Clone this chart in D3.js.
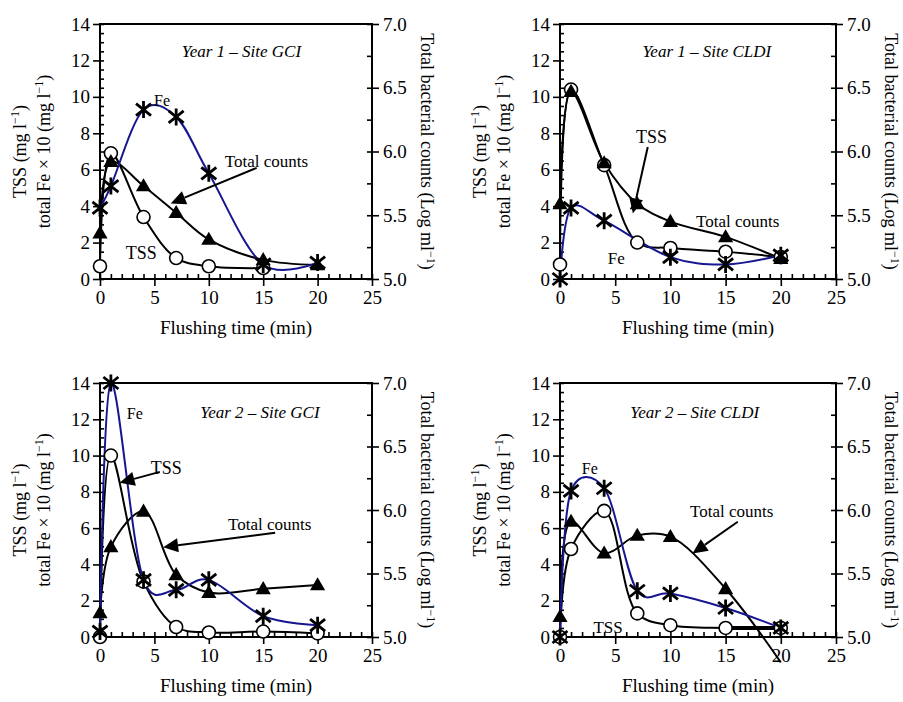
<!DOCTYPE html>
<html>
<head>
<meta charset="utf-8">
<script src="https://cdn.jsdelivr.net/npm/d3@7"></script>
<style>
  body { margin: 0; background: #fff; }
  svg { display: block; }
  svg text { font-family: "Liberation Serif", "Times New Roman", Times, "Nimbus Roman", "FreeSerif", "DejaVu Serif", serif !important; fill: #000; }
</style>
</head>
<body>
<svg id="chart" width="903" height="702"></svg>
<script>
// Sampling times (min)
const times = [0, 1, 4, 7, 10, 15, 20];

// Year 1 - Site GCI
const y1GciFe = [3.9, 5.1, 9.3, 8.9, 5.8, 0.8, 0.9];
const y1GciTss = [0.7, 6.9, 3.4, 1.15, 0.7, 0.6, null];
const y1GciCounts = [5.36, 5.92, 5.73, 5.52, 5.31, 5.15, 5.11];

// Year 1 - Site CLDI
const y1CldiFe = [0.0, 3.9, 3.2, null, 1.2, 0.8, 1.3];
const y1CldiTss = [0.8, 10.4, 6.25, 2.0, 1.7, 1.5, 1.2];
const y1CldiCounts = [5.59, 6.47, 5.91, 5.59, 5.45, 5.33, 5.16];

// Year 2 - Site GCI
const y2GciFe = [0.3, 14.0, 3.15, 2.6, 3.15, 1.15, 0.65];
const y2GciTss = [0.0, 10.0, 3.05, 0.55, 0.25, 0.3, 0.2];
const y2GciCounts = [5.19, 5.71, 5.99, 5.49, 5.35, 5.38, 5.41];

// Year 2 - Site CLDI
const y2CldiFe = [0.0, 8.05, 8.2, 2.55, 2.4, 1.6, 0.5];
const y2CldiTss = [0.0, 4.85, 6.95, 1.3, 0.65, 0.5, 0.5];
const y2CldiCounts = [5.16, 5.91, 5.66, 5.80, 5.79, 5.38, 4.8];

const xTicks = [0, 5, 10, 15, 20, 25];
const leftTicks = [0, 2, 4, 6, 8, 10, 12, 14];
const rightTicks = [5.0, 5.5, 6.0, 6.5, 7.0];

const svg = d3.select("#chart");
const blue = "#161690";
const serif = "'Liberation Serif', 'Times New Roman', Times, serif";

function pairs(vals) {
  return times.map((t, i) => ({ t: t, v: vals[i] })).filter(d => d.v !== null);
}

function drawPanel(cfg) {
  const x = d3.scaleLinear().domain([0, 25]).range([cfg.x0, cfg.x1]);
  const y = d3.scaleLinear().domain([0, 14]).range([cfg.yb, cfg.yt]);
  const yR = d3.scaleLinear().domain([5, 7]).range([cfg.yb, cfg.yt]);
  const g = svg.append("g").attr("font-family", serif);

  // frame
  g.append("rect")
    .attr("x", cfg.x0).attr("y", cfg.yt)
    .attr("width", cfg.x1 - cfg.x0).attr("height", cfg.yb - cfg.yt)
    .attr("fill", "none").attr("stroke", "#000").attr("stroke-width", 2);

  // axes: major ticks outside with labels, minor ticks inside
  const styleAxis = sel => {
    sel.attr("font-family", serif).attr("font-size", 19);
    sel.select(".domain").remove();
    sel.selectAll("line").attr("stroke", "#000").attr("stroke-width", 1.6);
    sel.selectAll("text").attr("fill", "#000");
  };
  g.append("g").attr("transform", `translate(0,${cfg.yb})`)
    .call(d3.axisBottom(x).tickValues(xTicks).tickSize(7).tickSizeOuter(0).tickPadding(5))
    .call(styleAxis);
  g.append("g").attr("transform", `translate(0,${cfg.yb})`)
    .call(d3.axisTop(x).tickValues(d3.range(0, 26, 1)).tickSize(5).tickSizeOuter(0).tickFormat(""))
    .call(styleAxis);
  g.append("g").attr("transform", `translate(${cfg.x0},0)`)
    .call(d3.axisLeft(y).tickValues(leftTicks).tickSize(7).tickSizeOuter(0).tickPadding(3))
    .call(styleAxis);
  g.append("g").attr("transform", `translate(${cfg.x0},0)`)
    .call(d3.axisRight(y).tickValues(d3.range(0, 14.01, 0.5)).tickSize(4).tickSizeOuter(0).tickFormat(""))
    .call(styleAxis);
  g.append("g").attr("transform", `translate(${cfg.x1},0)`)
    .call(d3.axisRight(yR).tickValues(rightTicks).tickFormat(d3.format(".1f")).tickSize(7).tickSizeOuter(0).tickPadding(4))
    .call(styleAxis);
  g.append("g").attr("transform", `translate(${cfg.x1},0)`)
    .call(d3.axisLeft(yR).tickValues(d3.range(5, 7.01, 0.25)).tickSize(5).tickSizeOuter(0).tickFormat(""))
    .call(styleAxis);

  // axis titles
  const cx = (cfg.x0 + cfg.x1) / 2;
  const cy = (cfg.yt + cfg.yb) / 2;
  g.append("text").attr("x", cx).attr("y", cfg.yb + 55)
    .attr("text-anchor", "middle").attr("font-size", 19).text("Flushing time (min)");

  const leftLab = g.append("text")
    .attr("transform", `translate(${cfg.x0 - 74},${cy}) rotate(-90)`)
    .attr("text-anchor", "middle").attr("font-size", 18);
  leftLab.append("tspan").text("TSS (mg l");
  leftLab.append("tspan").attr("font-size", 12).attr("dy", -7).text("−1");
  leftLab.append("tspan").attr("dy", 7).text(")");
  const leftLab2 = g.append("text")
    .attr("transform", `translate(${cfg.x0 - 50},${cy}) rotate(-90)`)
    .attr("text-anchor", "middle").attr("font-size", 18);
  leftLab2.append("tspan").text("total Fe × 10 (mg l");
  leftLab2.append("tspan").attr("font-size", 12).attr("dy", -7).text("−1");
  leftLab2.append("tspan").attr("dy", 7).text(")");

  const rightLab = g.append("text")
    .attr("transform", `translate(${cfg.x1 + 49},${cy}) rotate(90)`)
    .attr("text-anchor", "middle").attr("font-size", 18);
  rightLab.append("tspan").text("Total bacterial  counts (Log ml");
  rightLab.append("tspan").attr("font-size", 12).attr("dy", -6).text("−1");
  rightLab.append("tspan").attr("dy", 6).text(")");

  // lines
  const curve = d3.curveCatmullRom.alpha(0.5);
  const lineL = d3.line().x(d => x(d.t)).y(d => y(d.v)).curve(curve);
  const lineR = d3.line().x(d => x(d.t)).y(d => yR(d.v)).curve(curve);
  const lineFe = d3.line().x(d => x(d.t)).y(d => y(d.v)).curve(d3.curveCatmullRom.alpha(0.1));

  g.append("path").datum(pairs(cfg.tss)).attr("d", lineL)
    .attr("fill", "none").attr("stroke", "#000").attr("stroke-width", 2);
  g.append("path").datum(pairs(cfg.counts)).attr("d", lineR)
    .attr("fill", "none").attr("stroke", "#000").attr("stroke-width", 2);
  g.append("path").datum(pairs(cfg.fe)).attr("d", lineFe)
    .attr("fill", "none").attr("stroke", blue).attr("stroke-width", 2);
  if (cfg.thickTssTail) {
    g.append("path").datum(pairs(cfg.tss).slice(-2)).attr("d", d3.line().x(d => x(d.t)).y(d => y(d.v)))
      .attr("fill", "none").attr("stroke", "#000").attr("stroke-width", 4);
  }

  // markers
  g.selectAll(".tssPt").data(pairs(cfg.tss)).enter().append("circle")
    .attr("cx", d => x(d.t)).attr("cy", d => y(d.v)).attr("r", 6.5)
    .attr("fill", "#fff").attr("stroke", "#000").attr("stroke-width", 1.6);
  const tri = d3.symbol().type(d3.symbolTriangle).size(100);
  g.selectAll(".cntPt").data(pairs(cfg.counts).filter(d => d.v >= 5)).enter().append("path")
    .attr("d", tri).attr("transform", d => `translate(${x(d.t)},${yR(d.v) + 1})`)
    .attr("fill", "#000");
  const star = "M0,-8.5V8.5M-7.5,-6L7.5,6M-7.5,6L7.5,-6";
  g.selectAll(".fePt").data(pairs(cfg.fe)).enter().append("path")
    .attr("d", star).attr("transform", d => `translate(${x(d.t)},${y(d.v)})`)
    .attr("fill", "none").attr("stroke", "#000").attr("stroke-width", 2.8);

  // title
  g.append("text").attr("x", x(cfg.title.x)).attr("y", y(cfg.title.y))
    .attr("text-anchor", "middle").attr("dominant-baseline", "central")
    .attr("font-size", 17).attr("font-style", "italic").text(cfg.title.t);

  // labels
  cfg.labels.forEach(l => {
    g.append("text").attr("x", x(l.x)).attr("y", y(l.y))
      .attr("text-anchor", "middle").attr("dominant-baseline", "central")
      .attr("font-size", l.s).text(l.t);
  });

  // arrows
  cfg.arrows.forEach(a => {
    const x1 = x(a.from[0]), y1 = y(a.from[1]);
    const x2 = x(a.to[0]), y2 = y(a.to[1]);
    const ang = Math.atan2(y2 - y1, x2 - x1);
    const len = 15, half = 7;
    const bx = x2 - len * Math.cos(ang), by = y2 - len * Math.sin(ang);
    g.append("line").attr("x1", x1).attr("y1", y1).attr("x2", bx).attr("y2", by)
      .attr("stroke", "#000").attr("stroke-width", 2);
    const px = -Math.sin(ang) * half, py = Math.cos(ang) * half;
    g.append("path")
      .attr("d", `M${x2},${y2}L${bx + px},${by + py}L${bx - px},${by - py}Z`)
      .attr("fill", "#000");
  });
}

drawPanel({
  x0: 100, x1: 372, yt: 24, yb: 279,
  fe: y1GciFe, tss: y1GciTss, counts: y1GciCounts,
  title: { t: "Year 1 – Site GCI", x: 13.0, y: 12.5 },
  labels: [
    { t: "Fe", x: 5.7, y: 9.8, s: 16 },
    { t: "Total counts", x: 15.3, y: 6.45, s: 17 },
    { t: "TSS", x: 3.8, y: 1.45, s: 18 }
  ],
  arrows: [{ from: [14.4, 6.1], to: [6.5, 4.15] }]
});

drawPanel({
  x0: 560, x1: 836, yt: 24, yb: 279,
  fe: y1CldiFe, tss: y1CldiTss, counts: y1CldiCounts,
  title: { t: "Year 1 – Site CLDI", x: 13.3, y: 12.5 },
  labels: [
    { t: "TSS", x: 8.3, y: 7.8, s: 18 },
    { t: "Total counts", x: 16.1, y: 3.15, s: 17 },
    { t: "Fe", x: 5.1, y: 1.15, s: 17 }
  ],
  arrows: [{ from: [7.95, 7.25], to: [6.6, 3.6] }]
});

drawPanel({
  x0: 100, x1: 372, yt: 383, yb: 637,
  fe: y2GciFe, tss: y2GciTss, counts: y2GciCounts,
  title: { t: "Year 2 – Site GCI", x: 14.7, y: 12.4 },
  labels: [
    { t: "Fe", x: 3.2, y: 12.3, s: 16 },
    { t: "TSS", x: 6.1, y: 9.3, s: 18 },
    { t: "Total counts", x: 15.6, y: 6.2, s: 17 }
  ],
  arrows: [
    { from: [5.5, 9.1], to: [1.8, 8.5] },
    { from: [16.1, 5.75], to: [5.8, 4.95] }
  ]
});

drawPanel({
  x0: 560, x1: 836, yt: 383, yb: 637,
  fe: y2CldiFe, tss: y2CldiTss, counts: y2CldiCounts, thickTssTail: true,
  title: { t: "Year 2 – Site CLDI", x: 12.2, y: 12.4 },
  labels: [
    { t: "Fe", x: 2.7, y: 9.3, s: 16 },
    { t: "Total counts", x: 15.55, y: 6.9, s: 17 },
    { t: "TSS", x: 4.35, y: 0.55, s: 17 }
  ],
  arrows: [{ from: [16.1, 6.35], to: [12.0, 4.6] }]
});
</script>
</body>
</html>
